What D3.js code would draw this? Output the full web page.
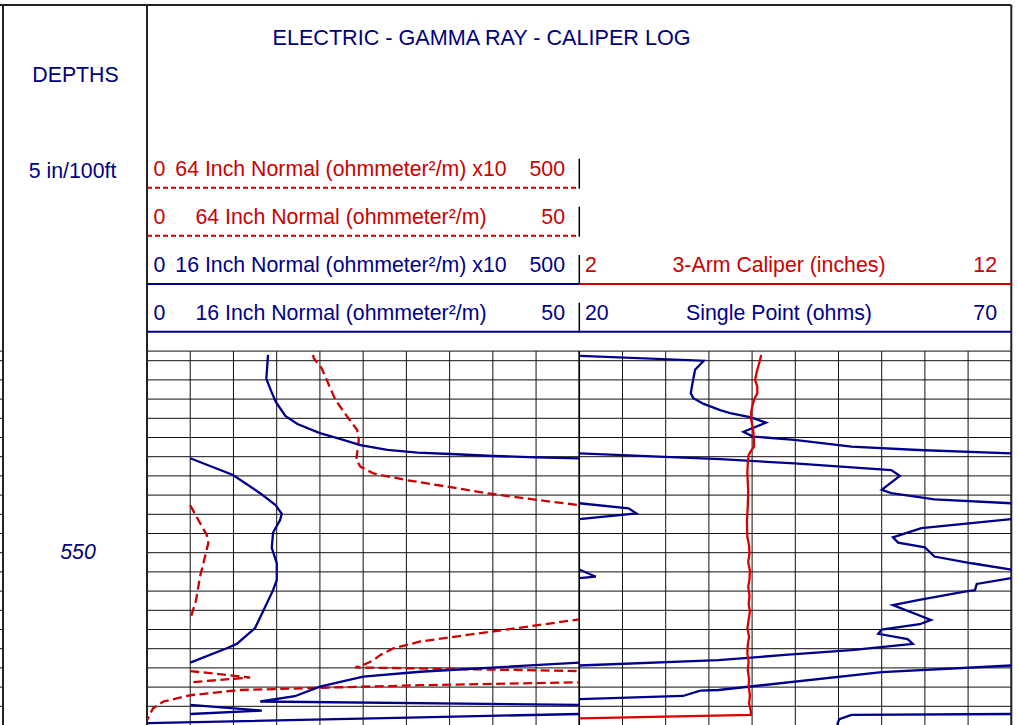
<!DOCTYPE html>
<html>
<head>
<meta charset="utf-8">
<script src="https://cdn.jsdelivr.net/npm/d3@7"></script>
<style>
  body { margin: 0; background: #fff; }
  svg { display: block; }
</style>
</head>
<body>
<div id="log"></div>
<script>
// ---- data (depth in ft, values in curve units) ----
var titleText = "ELECTRIC - GAMMA RAY - CALIPER LOG";
var depthLabels = [550];

// 16 inch normal, ohm-m (drawn 0-50, backup x10 when off scale)
var n16Depth = [508.8, 513.8, 516.5, 518.6, 521.5, 523.2, 525.1, 526.3, 527.6, 528.6, 529.17, 529.44, 529.85, 530.13, 530.33,
  533.8, 537.6, 540.1, 541.9, 543.2, 545.8, 549.0, 552.2, 555.7, 557.8, 561.3, 565.7, 569.0, 569.9, 572.9,
  574.8, 575.8, 577.9, 579.9, 581.0, 581.7, 582.9, 583.6, 584.3, 585.5];
var n16Value = [14.0, 13.8, 14.4, 14.9, 16.0, 17.4, 20.0, 22.3, 24.7, 27.8, 31.3, 35.1, 40.0, 45.0, 50,
  99.5, 130.8, 148.7, 155.9, 153.9, 145.8, 144.3, 150.1, 150.1, 145.8, 136.6, 125.0, 103.8, 92.2, 50,
  31.6, 25.0, 20.0, 17.1, 13.1, 50, 132.8, 50, 31.6, 0];

// 64 inch normal, ohm-m
var n64Depth = [508.8, 509.5, 511.6, 518.2, 522.0, 524.4, 526.5, 530.7, 532.1, 533.5, 534.9, 536.0, 537.6, 539.0, 540.1,
  543.2, 546.3, 548.0, 552.2, 555.0, 559.9, 563.9,
  568.5, 569.2, 569.9, 571.3, 572.4, 573.4, 573.9, 574.65, 576.0, 577.0,
  577.6, 578.6, 579.7, 581.0, 582.4, 584.9];
var n64Value = [19.2, 19.3, 20.2, 21.8, 23.3, 24.3, 24.5, 24.2, 24.7, 26.2, 30.1, 33.9, 39.3, 45.1, 50,
  59.4, 69.1, 70.9, 65.2, 61.3, 56.7, 50,
  31.6, 30.1, 28.5, 27.0, 26.2, 25.0, 24.1, 50, 119.2, 50,
  31.6, 10.8, 5.0, 1.9, 0.7, 0.0];

// single point, ohms (20-70, wraps every 50)
var spDepth = [509.0, 510.0, 511.9, 514.7, 516.8, 517.8, 519.0, 520.3, 521.0, 521.8, 522.9, 524.8, 525.8, 526.5, 527.9, 528.6, 529.3,
  530.5, 531.4, 532.8, 534.0, 536.9, 537.6, 538.9, 539.7,
  540.75, 541.8, 543.0,
  544.9, 546.8, 547.9, 548.9, 550.8, 552.2, 553.5,
  555.0, 555.3,
  556.5, 557.8, 558.1, 559.9, 560.9, 564.0, 564.9, 566.0, 566.9, 568.0, 569.0, 570.3, 571.3, 572.4, 573.5,
  574.9, 578.6, 578.75, 579.85, 580.5, 581.5, 582.0, 583.6, 583.8, 584.7, 585.5, 586.0];
var spValue = [20.1, 34.4, 33.4, 33.1, 32.9, 33.2, 34.4, 36.3, 37.6, 39.9, 41.6, 39.0, 40.1, 44.9, 51.5, 59.2, 70,
  86.3, 94.9, 106.1, 107.1, 105.0, 106.1, 111.1, 120,
  125.7, 126.6, 120,
  109.6, 106.3, 106.9, 110.0, 111.1, 115.4, 120,
  121.9, 120,
  116.0, 115.8, 114.6, 109.2, 106.3, 110.7, 109.4, 105.0, 104.6, 108.0, 108.6, 101.5, 93.8, 86.1, 70,
  55.0, 36.1, 34.0, 32.0, 20, 15, null, 70, 51.5, 50.1, 49.9, 49.9];

// 3-arm caliper, inches
var calDepth = [508.8, 510.0, 511.25, 512.6, 514.0, 515.4, 516.8, 517.8, 518.9, 520.6, 522.35, 524.2, 526.0, 527.9, 529.0, 529.65,
  531.5, 533.5, 537.0, 540.4, 543.5, 546.7, 548.5, 550.1, 552.0, 553.8, 555.5, 557.1, 559.0, 560.7, 562.2, 564.0,
  565.8, 567.5, 569.2, 571.0, 572.8, 574.5, 576.2, 577.9, 579.7, 581.4, 583.0, 583.8, 584.5, 585.2];
var calValue = [6.21, 6.18, 6.14, 6.10, 6.07, 6.12, 6.12, 6.06, 6.02, 5.98, 5.98, 6.02, 6.04, 6.04, 5.96, 5.92,
  5.90, 5.89, 5.91, 5.90, 5.88, 5.89, 5.93, 5.94, 5.91, 5.95, 5.94, 5.91, 5.94, 5.92, 5.95, 5.92,
  5.89, 5.93, 5.90, 5.89, 5.92, 5.90, 5.93, 5.92, 5.95, 5.93, 5.97, 5.97, 2.0, 1.9];

// ---- layout ----
var width = 1018, height = 725;
var blue = "#00008b", navy = "#000080", red = "#cc0000";
var font = "'Liberation Sans', Arial, sans-serif";
var fs = 21.3;
var curveW = 2.3;

var t1 = [147, 579.3], t2 = [579.3, 1011.3];
var topDepth = 508, botDepth = 586;

var y = d3.scaleLinear().domain([550, 551]).range([552.7, 557.5]);
var x16 = d3.scaleLinear().domain([0, 50]).range(t1);
var x16b = d3.scaleLinear().domain([0, 500]).range(t1);
var xsp = d3.scaleLinear().domain([20, 70]).range(t2);
var xcal = d3.scaleLinear().domain([2, 12]).range(t2);

var svg = d3.select("#log").append("svg")
    .attr("width", width)
    .attr("height", height);

svg.append("rect").attr("width", width).attr("height", height).attr("fill", "#fff");

var defs = svg.append("defs");
defs.append("clipPath").attr("id", "clip1").append("rect")
    .attr("x", t1[0]).attr("y", y(topDepth))
    .attr("width", t1[1] - t1[0]).attr("height", height - y(topDepth));
defs.append("clipPath").attr("id", "clip2").append("rect")
    .attr("x", t2[0]).attr("y", y(topDepth))
    .attr("width", t2[1] - t2[0]).attr("height", height - y(topDepth));

// ---- grid ----
var gridDepths = [topDepth].concat(d3.range(510, botDepth, 4));
var grid = svg.append("g").attr("stroke", "#111").attr("stroke-width", 1);

grid.selectAll("line.h").data(gridDepths).enter().append("line")
    .attr("class", "h")
    .attr("x1", t1[0]).attr("x2", t2[1])
    .attr("y1", d => y(d)).attr("y2", d => y(d));

// ticks of the neighbouring column at the far left
grid.selectAll("line.hl").data(gridDepths).enter().append("line")
    .attr("class", "hl")
    .attr("x1", 0).attr("x2", 3)
    .attr("y1", d => y(d)).attr("y2", d => y(d));

grid.selectAll("line.v1").data(x16.ticks(10)).enter().append("line")
    .attr("class", "v1")
    .attr("x1", d => x16(d)).attr("x2", d => x16(d))
    .attr("y1", y(topDepth)).attr("y2", height);

grid.selectAll("line.v2").data(xsp.ticks(10)).enter().append("line")
    .attr("class", "v2")
    .attr("x1", d => xsp(d)).attr("x2", d => xsp(d))
    .attr("y1", y(topDepth)).attr("y2", height);

// ---- frame ----
var frame = svg.append("g").attr("stroke", "#222").attr("stroke-width", 2);
frame.append("line").attr("x1", 0).attr("x2", t2[1]).attr("y1", 5).attr("y2", 5);
frame.append("line").attr("x1", 3).attr("x2", 3).attr("y1", 5).attr("y2", height);
frame.append("line").attr("x1", t1[0]).attr("x2", t1[0]).attr("y1", 5).attr("y2", height);
frame.append("line").attr("x1", t2[1]).attr("x2", t2[1]).attr("y1", 5).attr("y2", height);
svg.append("line").attr("x1", t1[1]).attr("x2", t1[1])
    .attr("y1", y(topDepth)).attr("y2", height)
    .attr("stroke", "#000").attr("stroke-width", 1.5);

// ---- header text ----
function txt(x, yy, s, color, anchor, italic, size) {
  svg.append("text")
      .attr("x", x).attr("y", yy)
      .attr("fill", color)
      .attr("font-family", font)
      .attr("font-size", (size || fs) + "px")
      .attr("font-style", italic ? "italic" : "normal")
      .attr("text-anchor", anchor || "start")
      .text(s);
}

txt(481.5, 45, titleText, navy, "middle", false, 21.6);
txt(75.5, 82.3, "DEPTHS", navy, "middle");
txt(72.5, 178.3, "5 in/100ft", navy, "middle");

depthLabels.forEach(function(d) {
  txt(78, y(d) + 6.5, String(d), navy, "middle", true);
});

var rows = [
  { line: 187.7, color: red, dash: "5,3", lo: "0", hi: "500", label: "64 Inch Normal (ohmmeter\u00b2/m) x10" },
  { line: 235.7, color: red, dash: "5,3", lo: "0", hi: "50", label: "64 Inch Normal (ohmmeter\u00b2/m)" },
  { line: 284, color: blue, dash: null, lo: "0", hi: "500", label: "16 Inch Normal (ohmmeter\u00b2/m) x10" },
  { line: 331.7, color: blue, dash: null, lo: "0", hi: "50", label: "16 Inch Normal (ohmmeter\u00b2/m)" }
];
var rows2 = [
  { line: 284, color: red, lo: "2", hi: "12", label: "3-Arm Caliper (inches)" },
  { line: 331.7, color: blue, lo: "20", hi: "70", label: "Single Point (ohms)" }
];

rows.forEach(function(r) {
  var base = r.line - 11.8;
  txt(153.5, base, r.lo, r.color, "start");
  txt(341, base, r.label, r.color, "middle");
  txt(565, base, r.hi, r.color, "end");
  svg.append("line")
      .attr("x1", t1[0]).attr("x2", t1[1])
      .attr("y1", r.line).attr("y2", r.line)
      .attr("stroke", r.color).attr("stroke-width", 2)
      .attr("stroke-dasharray", r.dash);
  svg.append("line")
      .attr("x1", t1[1]).attr("x2", t1[1])
      .attr("y1", r.line - 29).attr("y2", r.line + 1)
      .attr("stroke", "#000").attr("stroke-width", 1.5);
});

rows2.forEach(function(r) {
  var base = r.line - 11.8;
  txt(585, base, r.lo, r.color, "start");
  txt(779, base, r.label, r.color, "middle");
  txt(997, base, r.hi, r.color, "end");
  svg.append("line")
      .attr("x1", t2[0]).attr("x2", t2[1])
      .attr("y1", r.line).attr("y2", r.line)
      .attr("stroke", r.color).attr("stroke-width", 2);
});

// ---- curves ----
function zip(ds, vs) {
  return ds.map(function(d, i) { return { d: d, v: vs[i] }; });
}

var n16 = zip(n16Depth, n16Value);
var n64 = zip(n64Depth, n64Value);
var sp = zip(spDepth, spValue);
var cal = zip(calDepth, calValue);

var g1 = svg.append("g").attr("clip-path", "url(#clip1)").attr("fill", "none");
var g2 = svg.append("g").attr("clip-path", "url(#clip2)").attr("fill", "none");

function mainLine(xs) {
  return d3.line().defined(p => p.v != null).x(p => xs(p.v)).y(p => y(p.d));
}
function backupLine(xs) {
  return d3.line().defined(p => p.v != null && p.v >= 49.99).x(p => xs(p.v)).y(p => y(p.d));
}

// 64 inch normal, dashed red
g1.append("path").datum(n64).attr("d", mainLine(x16))
    .attr("stroke", red).attr("stroke-width", curveW).attr("stroke-dasharray", "9,4.5");
g1.append("path").datum(n64).attr("d", backupLine(x16b))
    .attr("stroke", red).attr("stroke-width", curveW).attr("stroke-dasharray", "9,4.5");

// 16 inch normal, solid blue
g1.append("path").datum(n16).attr("d", mainLine(x16))
    .attr("stroke", blue).attr("stroke-width", curveW);
g1.append("path").datum(n16).attr("d", backupLine(x16b))
    .attr("stroke", blue).attr("stroke-width", curveW);

// single point with wrap-around every 50 ohms
[0, 50, 100].forEach(function(shift) {
  var line = d3.line().defined(p => p.v != null)
      .x(p => xsp(p.v - shift)).y(p => y(p.d));
  g2.append("path").datum(sp).attr("d", line)
      .attr("stroke", blue).attr("stroke-width", curveW);
});

// caliper
g2.append("path").datum(cal).attr("d", mainLine(xcal))
    .attr("stroke", "#dd0000").attr("stroke-width", curveW);
</script>
</body>
</html>
